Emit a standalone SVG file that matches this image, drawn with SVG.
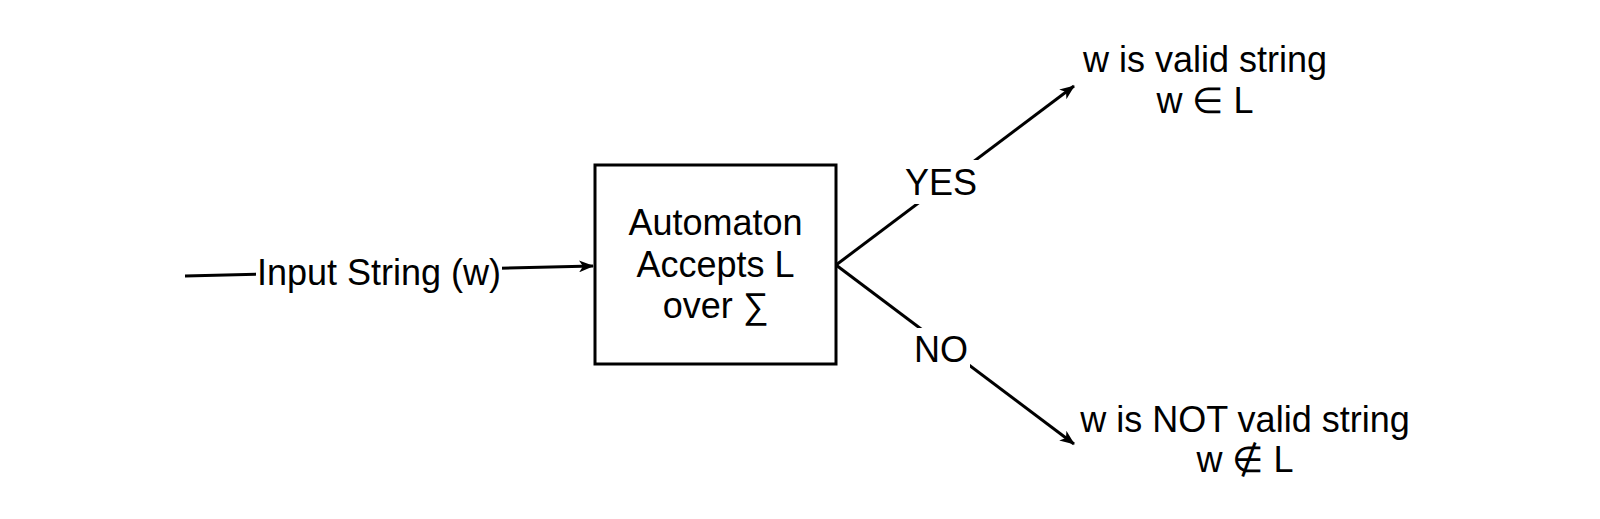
<svg xmlns="http://www.w3.org/2000/svg" width="1600" height="519" viewBox="0 0 1600 519">
<style>
text{font-family:"Liberation Sans",Arial,sans-serif;font-size:36px;fill:#000;text-anchor:middle}
.edge{stroke:#000;stroke-width:3;fill:none}
.bg{fill:#fff}
</style>
<defs>
<marker id="arr" viewBox="0 0 15 12" refX="14" refY="6" markerWidth="15" markerHeight="12" markerUnits="userSpaceOnUse" orient="auto">
<path d="M0,0 L15,6 L0,12 L4,6 Z" fill="#000"/>
</marker>
</defs>
<rect width="1600" height="519" fill="#fff"/>
<g id="connectors">
<path class="edge" d="M185,276 L593,266" marker-end="url(#arr)"/>
<path class="edge" d="M836,265 L1074,86" marker-end="url(#arr)"/>
<path class="edge" d="M836,265 L1074,444" marker-end="url(#arr)"/>
<rect class="bg" x="256" y="250" width="246" height="44"/>
<rect class="bg" x="902" y="160" width="78" height="44"/>
<rect class="bg" x="912" y="328" width="58" height="44"/>
<text x="379" y="285">Input String (w)</text>
<text x="941" y="195">YES</text>
<text x="941" y="362">NO</text>
</g>
<g id="automaton">
<rect x="595" y="165" width="241" height="199" fill="#fff" stroke="#000" stroke-width="3"/>
<text x="715.5" y="235">Automaton</text>
<text x="715.5" y="277">Accepts L</text>
<text x="715.5" y="318">over ∑</text>
</g>
<g id="valid">
<text x="1205" y="72">w is valid string</text>
<text x="1205" y="113">w ∈ L</text>
</g>
<g id="invalid">
<text x="1245" y="432">w is NOT valid string</text>
<text x="1245" y="472">w ∉ L</text>
</g>
</svg>
